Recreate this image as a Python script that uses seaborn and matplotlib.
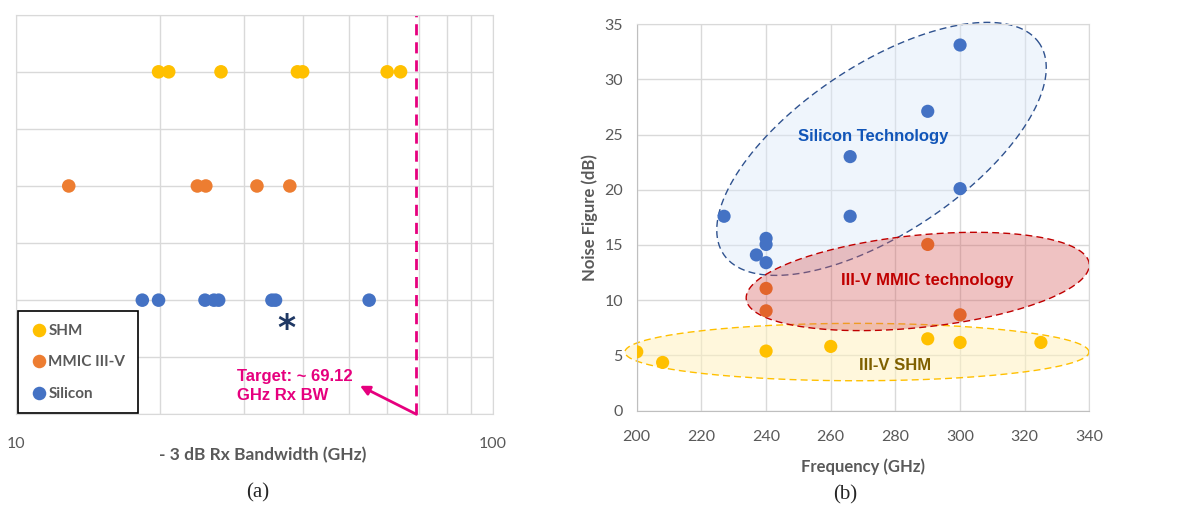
import numpy as np
import pandas as pd
import matplotlib
matplotlib.use("Agg")
import matplotlib.pyplot as plt
import seaborn as sns
from matplotlib.ticker import LogLocator, NullFormatter

# ── panel (a): -3 dB Rx bandwidth (GHz) per technology
SHM_BW = [19.9, 20.9, 26.9, 38.9, 39.9, 60.0, 64.0]
MMIC_BW = [12.9, 24.0, 25.0, 32.0, 37.5]
SILICON_BW = [18.4, 19.9, 24.9, 26.0, 26.6, 34.4, 35.0, 55.0]
TECH_ROW = {"SHM": 6, "MMIC III-V": 4, "Silicon": 2}
TARGET_BW = 69.12
STAR_BW, STAR_ROW = 36.8, 1.5

# ── panel (b): noise figure vs frequency
SI_FREQ = [227, 300, 290, 266, 300, 266, 240, 240, 237, 240]
SI_NF = [17.6, 33.1, 27.1, 23.0, 20.1, 17.6, 15.6, 15.05, 14.1, 13.4]
MMIC_FREQ = [290, 240, 240, 300]
MMIC_NF = [15.05, 11.07, 9.04, 8.68]
SHM_FREQ = [200, 208, 240, 260, 290, 300, 325]
SHM_NF = [5.33, 4.37, 5.4, 5.82, 6.51, 6.18, 6.18]

COLORS_A = {"SHM": "#FFC000", "MMIC III-V": "#ED7D31", "Silicon": "#4472C4"}
COLORS_B = {"Silicon": "#4472C4", "MMIC": "#E2652B", "SHM": "#FFC000"}
GRID = "#d9d9d9"
TXT = "#595959"
MAGENTA = "#E6007E"

sns.set_style("white")
plt.rcParams["font.family"] = ["Lato", "DejaVu Sans"]

fig = plt.figure(figsize=(11.94, 5.08), dpi=100)
ax1 = fig.add_axes([0.0134, 0.1844, 0.3995, 0.7866])
ax2 = fig.add_axes([0.5333, 0.1915, 0.3791, 0.7612])

# ──────────────────────────────────────────────────────────────────────────────
# (a)
# ──────────────────────────────────────────────────────────────────────────────
bw_df = pd.DataFrame({
    "bw": SHM_BW + MMIC_BW + SILICON_BW,
    "tech": ["SHM"] * len(SHM_BW) + ["MMIC III-V"] * len(MMIC_BW)
            + ["Silicon"] * len(SILICON_BW),
})
bw_df["row"] = bw_df["tech"].map(TECH_ROW)

sns.scatterplot(data=bw_df, x="bw", y="row", hue="tech", palette=COLORS_A,
                s=95, edgecolor="none", ax=ax1, zorder=3)
ax1.set_xscale("log")
ax1.set_xlim(10, 100)
ax1.set_ylim(0, 7)
ax1.set_yticks(range(8))
ax1.set_yticklabels([])
ax1.xaxis.set_major_locator(LogLocator(base=10))
ax1.xaxis.set_minor_locator(LogLocator(base=10, subs=range(2, 10)))
ax1.xaxis.set_minor_formatter(NullFormatter())
ax1.set_xticks([10, 100], labels=["10", "100"])
ax1.grid(True, which="both", color=GRID, lw=1)
ax1.tick_params(axis="x", which="both", color=GRID, length=5, width=1,
                labelsize=11.5, labelcolor=TXT, pad=11)
ax1.tick_params(axis="y", length=0)
for sp in ax1.spines.values():
    sp.set_color(GRID)
ax1.set_ylabel("")
ax1.set_xlabel("- 3 dB Rx Bandwidth (GHz)", fontsize=12.5, fontweight="bold",
               color=TXT)
ax1.xaxis.set_label_coords(0.518, -0.102)
ax1.xaxis.label.set_va("center")

ax1.axvline(TARGET_BW, color=MAGENTA, lw=2, ls=(0, (4, 2.5)), zorder=2)
ax1.annotate("", xy=(52.6, 0.5), xytext=(TARGET_BW, 0.0),
             arrowprops=dict(arrowstyle="-|>", color=MAGENTA, lw=2,
                             mutation_scale=14, shrinkA=0, shrinkB=0))
ax1.text(29.0, 0.5, "Target: ~ 69.12\nGHz Rx BW", color=MAGENTA,
         fontsize=12, fontweight="bold", ha="left", va="center",
         family=["Liberation Sans Narrow", "Liberation Sans"], linespacing=1.3)
ax1.text(STAR_BW, STAR_ROW, "*", color="#1F3864", fontsize=25,
         fontweight="bold", ha="center", va="center", family="DejaVu Sans")

leg = ax1.legend(loc="lower left", bbox_to_anchor=(0.004, 0.003), frameon=True,
                 fancybox=False, edgecolor="black", framealpha=1,
                 handletextpad=0.1, labelspacing=1.25, borderpad=0.9,
                 handlelength=1.2, markerscale=1.0, borderaxespad=0)
leg.get_frame().set_linewidth(1.2)
for t in leg.get_texts():
    t.set_color(TXT)
    t.set_fontweight("bold")
    t.set_fontsize(11)

# ──────────────────────────────────────────────────────────────────────────────
# (b)
# ──────────────────────────────────────────────────────────────────────────────
nf_df = pd.DataFrame({
    "freq": SI_FREQ + MMIC_FREQ + SHM_FREQ,
    "nf": SI_NF + MMIC_NF + SHM_NF,
    "tech": ["Silicon"] * len(SI_FREQ) + ["MMIC"] * len(MMIC_FREQ)
            + ["SHM"] * len(SHM_FREQ),
})

ax2.set_xlim(200, 340)
ax2.set_ylim(0, 35)


def draw_ellipse(ax, cx, cy, a_px, b_px, angle, face, alpha, edge, z):
    """Ellipse given in screen pixels around a data-space centre."""
    pos = ax.get_position()
    w_px = pos.width * fig.get_figwidth() * fig.dpi
    h_px = pos.height * fig.get_figheight() * fig.dpi
    x0, x1 = ax.get_xlim()
    y0, y1 = ax.get_ylim()
    sx, sy = (x1 - x0) / w_px, (y1 - y0) / h_px
    t = np.linspace(0, 2 * np.pi, 300)
    th = np.radians(angle)
    px = a_px * np.cos(t) * np.cos(th) - b_px * np.sin(t) * np.sin(th)
    py = a_px * np.cos(t) * np.sin(th) + b_px * np.sin(t) * np.cos(th)
    xs, ys = cx + px * sx, cy + py * sy
    ax.fill(xs, ys, facecolor=face, alpha=alpha, zorder=z, clip_on=False,
            edgecolor="none")
    ax.plot(xs, ys, color=edge, lw=1, ls=(0, (5, 3)), zorder=z + 0.1,
            clip_on=False)


draw_ellipse(ax2, 268.1, 5.31, 232, 28.7, 0.0, "#FFF2C0", 0.55, "#FFC000", 1)
draw_ellipse(ax2, 275.7, 23.7, 189.9, 84.2, 33.7, "#DCE9FA", 0.45, "#2F528F", 1.2)
draw_ellipse(ax2, 286.9, 11.7, 172.4, 46.1, 5.9, "#D65F5F", 0.38, "#C00000", 1.4)

sns.scatterplot(data=nf_df, x="freq", y="nf", hue="tech", palette=COLORS_B,
                s=90, edgecolor="none", ax=ax2, zorder=3, legend=False)
ax2.set_xlim(200, 340)
ax2.set_ylim(0, 35)
ax2.set_xticks(range(200, 341, 20))
ax2.set_yticks(range(0, 36, 5))
ax2.grid(True, color=GRID, lw=1)
ax2.set_axisbelow(True)
ax2.tick_params(axis="x", length=0, labelsize=11.5, labelcolor=TXT, pad=14)
ax2.tick_params(axis="y", length=0, labelsize=11.5, labelcolor=TXT, pad=10)
for sp in ax2.spines.values():
    sp.set_color(GRID)
ax2.spines["left"].set_color("#bfbfbf")
ax2.spines["bottom"].set_color("#bfbfbf")
ax2.set_xlabel("Frequency (GHz)", fontsize=12, fontweight="bold", color=TXT)
ax2.set_ylabel("Noise Figure (dB)", fontsize=12, fontweight="bold", color=TXT)
ax2.xaxis.set_label_coords(0.5, -0.145)
ax2.xaxis.label.set_va("center")
ax2.yaxis.set_label_coords(-0.103, 0.5)
ax2.yaxis.label.set_va("center")

narrow = ["Liberation Sans Narrow", "Liberation Sans"]
ax2.text(273.2, 24.8, "Silicon Technology", color="#1155B8", fontsize=12,
         fontweight="bold", ha="center", va="center", family=narrow, zorder=4)
ax2.text(289.7, 11.8, "III-V MMIC technology", color="#C00000", fontsize=12,
         fontweight="bold", ha="center", va="center", family=narrow, zorder=4)
ax2.text(279.9, 4.05, "III-V SHM", color="#7F6000", fontsize=12,
         fontweight="bold", ha="center", va="center", family=narrow, zorder=4)

fig.text(258 / 1194, 1 - 493 / 508, "(a)", fontsize=15, ha="center",
         va="center", family="Liberation Serif")
fig.text(845 / 1194, 1 - 495 / 508, "(b)", fontsize=15, ha="center",
         va="center", family="Liberation Serif")

fig.savefig("out.png", dpi=100)
